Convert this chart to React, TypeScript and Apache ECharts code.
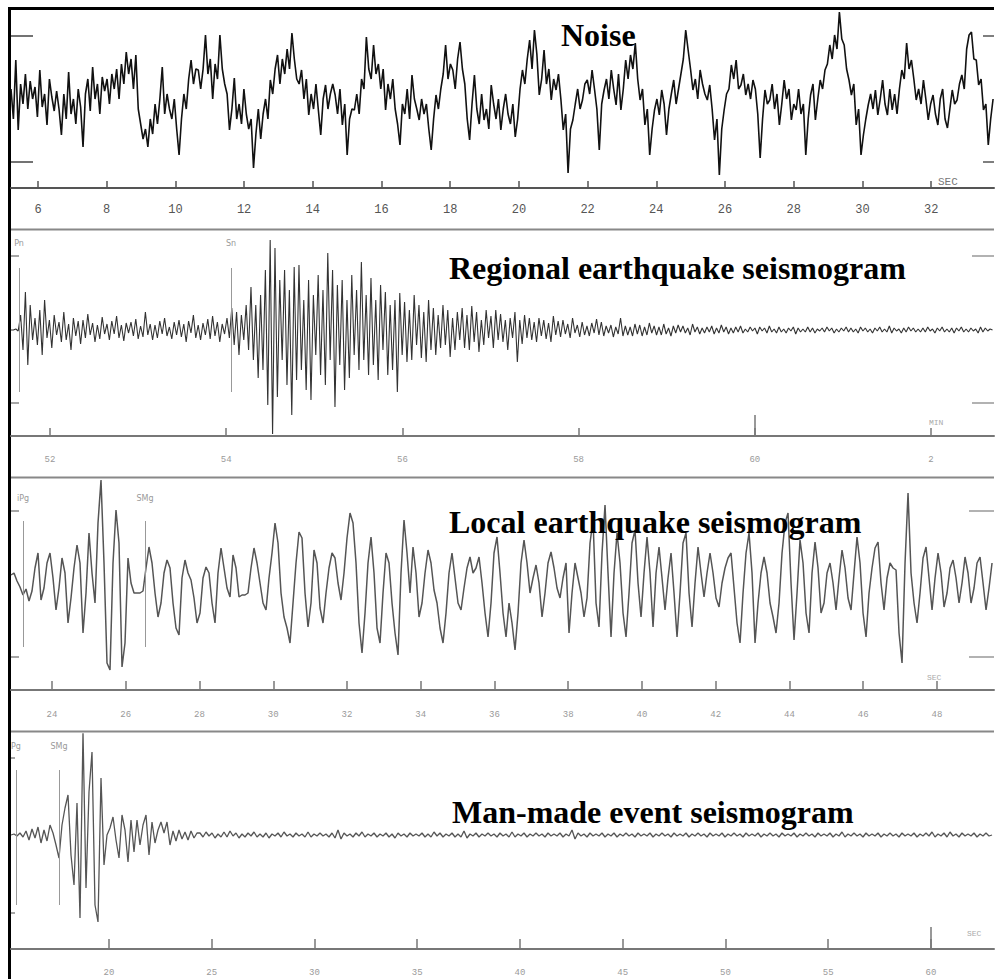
import React, { useEffect, useRef } from "react";
import * as echarts from "echarts";

// ---------- tick values / labels ----------
const noiseTicks = [6, 8, 10, 12, 14, 16, 18, 20, 22, 24, 26, 28, 30, 32];
const noiseTickLabels = ["6", "8", "10", "12", "14", "16", "18", "20", "22", "24", "26", "28", "30", "32"];
const regionalTicks = [52, 54, 56, 58, 60, 62];
const regionalTickLabels = ["52", "54", "56", "58", "60", "2"];
const localTicks = [24, 26, 28, 30, 32, 34, 36, 38, 40, 42, 44, 46, 48];
const localTickLabels = ["24", "26", "28", "30", "32", "34", "36", "38", "40", "42", "44", "46", "48"];
const manmadeTicks = [20, 25, 30, 35, 40, 45, 50, 55, 60];
const manmadeTickLabels = ["20", "25", "30", "35", "40", "45", "50", "55", "60"];

// ---------- titles ----------
const panelTitles = ["Noise", "Regional earthquake seismogram", "Local earthquake seismogram", "Man-made event seismogram"];
const panelUnits = ["SEC", "MIN", "SEC", "SEC"];

// ---------- phase picks ----------
const regionalPickNames = ["Pn", "Sn"];
const regionalPickTimes = [51.648, 54.054];
const localPickNames = ["iPg", "SMg"];
const localPickTimes = [23.213, 26.522];
const manmadePickNames = ["Pg", "SMg"];
const manmadePickTimes = [15.474, 17.567];

// ---------- sampling ----------
const noiseStart = 5.214;
const noiseStep = 0.0699; // s
const regionalStart = 51.557;
const regionalStep = 0.02724; // min
const localStart = 22.888;
const localStep = 0.08136; // s
const manmadeStart = 15.231;
const manmadeStep = 0.146; // s

// ---------- traces (amplitude) ----------
const noiseValues = [
  10, -20, 39, -31, 15, -5, 25, -10, 18, 0,
  12, -18, 29, -8, 5, -26, 20, 2, -12, 8,
  -10, -36, 5, -20, 27, -15, 0, -25, 10, -8,
  -48, 5, 20, -12, 32, 0, 15, -15, 22, 8,
  20, -5, 25, 10, 30, 0, 35, 15, 47, 25,
  40, 10, 44, -10, -25, -40, -30, -48, -20, -35,
  -5, -25, 0, 32, -15, 5, -10, -20, 0, -30,
  -56, -20, 5, -10, 20, 39, 15, 30, 29, 10,
  30, 64, 25, 40, 0, 35, 20, 64, 30, 15,
  5, -31, -10, 21, -20, -5, -25, 10, -15, -30,
  -20, -69, -35, -10, -40, -15, 0, -20, 19, 5,
  30, 44, 15, 40, 25, 50, 30, 66, 40, 20,
  15, 29, 0, 20, -16, 5, -10, 15, -11, -36,
  0, 14, -10, 5, 15, 4, -15, 10, -26, -5,
  -56, -20, -10, -11, 5, -15, 20, 10, 62, 30,
  20, 54, 25, 35, 10, 30, -11, 15, 0, 20,
  -10, -25, -46, -5, -15, 10, -20, 24, 0, -10,
  -21, 0, -15, -5, -30, -51, -20, 4, -10, 10,
  25, 54, 20, 35, 29, 10, 40, 57, 30, 15,
  -20, -41, -5, 24, -10, -25, 5, -21, -10, -30,
  14, -5, -20, 0, -31, -10, 5, -15, -25, -5,
  -38, -20, 10, 29, 15, 40, 59, 30, 69, 45,
  4, 20, 49, 15, 30, -1, 20, 9, 25, 0,
  -31, -15, -74, -30, -21, -5, 10, -10, -1, 15,
  19, 5, 29, 10, -10, -51, -5, 9, 20, 0,
  29, 10, -6, 25, -11, 10, 39, 20, 44, 30,
  56, 20, -1, 10, -26, -10, -56, -30, -11, 0,
  -16, 9, -5, -36, -10, 5, 19, -5, 10, 25,
  40, 69, 49, 30, 9, 20, 0, 29, 15, 5,
  -1, 14, -10, -41, -20, -76, -30, -11, 5, 10,
  34, 20, 39, 10, 14, 25, 4, 15, 0, 19,
  10, -15, -59, -20, 9, -5, -1, 15, -10, 5,
  -26, -5, 19, 0, 10, -21, -5, -11, 10, -15,
  -5, -56, -20, 4, 15, -21, 0, 19, 10, 29,
  35, 54, 40, 64, 50, 87, 60, 54, 30, 19,
  4, 15, -26, -10, -56, -36, -20, -6, 5, -10,
  9, -16, 0, 19, -5, -16, 10, -11, 5, -15,
  10, 29, 20, 56, 30, 39, 20, -1, 10, -5,
  19, 0, -21, -5, 4, -15, -26, 0, 10, -20,
  -29, -10, 9, -5, -1, 15, 24, 10, 50, 64,
  67, 40, 39, 14, 20, -11, -5, -46, -20, 0,
];

const regionalValues = [
  0, 0, 1, -1, 15, -20, 38, -35, 25, -10,
  12, -15, 20, -25, 30, -8, 10, -18, 15, -5,
  8, -12, 18, -10, 6, -20, 12, -6, 9, -14,
  10, -8, 16, -5, 7, -12, 5, -9, 13, -4,
  6, -10, 9, -4, 14, -8, 5, -11, 7, -3,
  8, -6, 11, -9, 4, -7, 18, -5, 6, -10,
  5, -8, 9, -4, 12, -6, 3, -9, 8, -5,
  10, -7, 6, -12, 9, -3, 15, -8, 5, -10,
  7, -5, 11, -9, 14, -6, 8, -12, 6, -4,
  12, -8, 22, -15, 18, -25, 15, -10, 25, -20,
  43, -30, 25, -48, 35, -40, 60, -75, 90, -104,
  82, -67, 50, -30, 60, -55, 40, -85, 63, -50,
  65, -40, 30, -60, 50, -70, 35, -25, 55, -45,
  40, -55, 77, -30, 60, -77, 45, -35, 50, -60,
  30, -48, 55, -25, 40, -40, 68, -30, 35, -45,
  52, -35, 30, -50, 45, -20, 38, -45, 25, -40,
  30, -62, 37, -25, 28, -32, 20, -30, 35, -15,
  25, -28, 18, -32, 30, -20, 22, -25, 15, -18,
  25, -15, 20, -27, 12, -20, 18, -10, 22, -18,
  15, -20, 24, -12, 18, -22, 10, -15, 20, -8,
  14, -18, 20, -10, 16, -12, 10, -20, 12, -8,
  18, -32, 10, -14, 15, -8, 12, -10, 8, -12,
  12, -6, 10, -9, 7, -12, 14, -5, 9, -7,
  10, -4, 6, -8, 12, -3, 5, -7, 8, -5,
  4, -6, 7, -3, 11, -5, 8, -6, 4, -3,
  5, -7, 3, -4, 12, -6, 4, -5, 3, -6,
  6, -4, 5, -6, 3, -5, 7, -3, 4, -5,
  3, -5, 6, -4, 2, -6, 4, -3, 5, -2,
  4, -3, 2, -5, 6, -2, 3, -4, 2, -3,
  3, -2, 4, -4, 2, -3, 5, -2, 3, -4,
  2, -3, 3, -2, 4, -3, 1, -2, 3, -1,
  2, -4, 3, -1, 2, -3, 4, -2, 1, -3,
  3, -2, 1, -3, 2, -1, 3, -4, 2, -2,
  1, -2, 3, -2, 2, -3, 1, -1, 2, -2,
  3, -1, 2, -3, 1, -2, 2, -1, 3, -2,
  2, -2, 1, -3, 3, -1, 2, -2, 1, -3,
  2, -1, 3, -2, 1, -2, 4, -3, 2, -1,
  1, -3, 2, -2, 3, -1, 2, -2, 1, -2,
  2, -2, 3, -1, 1, -3, 2, -1, 3, -2,
  1, -2, 2, -3, 2, -1, 3, -2, 1, -2,
  2, -1, 1, -3, 3, -2, 2, -1, 1, 0,
];

const localValues = [
  8, 10, 2, -4, -12, -6, -18, -8, 15, 30,
  -17, -5, 20, 30, 5, -27, -5, 25, 10, -40,
  -15, 15, 38, 20, -50, -10, 50, 10, -20, 60,
  103, 20, -80, -87, 20, 73, 40, -84, -60, 25,
  0, -10, -10, -10, -8, 15, 36, 20, -10, -34,
  -20, 10, 23, 15, -20, -45, -52, 5, 23, 10,
  3, -15, -40, -30, 5, 16, 10, -20, -40, 10,
  35, 15, -5, -14, 28, 15, -14, -12, -12, -10,
  15, 35, 20, 0, -20, -27, 5, 30, 60, 40,
  -10, -34, -45, -60, -20, 20, 51, 45, -10, -44,
  -20, 33, 20, -25, -40, -10, 15, 30, 25, 0,
  -17, 10, 45, 70, 60, 20, -40, -70, -30, 20,
  46, 10, -45, -60, -10, 30, 20, -20, -50, -72,
  10, 63, 30, -10, 36, 10, -34, -20, 10, 33,
  20, -7, -20, -45, -60, -30, 10, 30, 5, -20,
  -27, -5, 15, 26, 10, 15, 26, 0, -30, -54,
  -20, 30, 46, 10, -30, -54, -20, -40, -67, -30,
  20, 43, 20, -10, 5, 18, 0, -34, -10, 20,
  31, 15, -5, -15, 5, 20, -50, -10, 20, 5,
  -10, -34, -15, 40, 63, -20, -44, 30, 78, 10,
  -54, 10, 50, 20, -30, -54, -10, 40, 53, 0,
  -34, 10, 46, 10, -44, 10, 36, 5, -27, 5,
  30, -10, -54, -10, 40, 50, -10, -44, 0, 36,
  10, -14, 10, 30, 10, -15, -24, 0, 15, 25,
  30, -5, -40, -60, -10, 30, 50, 10, -60, -20,
  10, 26, 10, -20, -34, -50, -20, 30, 60, 70,
  0, -57, -10, 43, 20, -30, -50, 10, 41, 15,
  -30, -20, 10, 20, 0, -27, 5, 33, 15, -15,
  -27, 10, 46, 20, -30, -54, -10, 15, 35, 41,
  0, -27, 5, 20, 15, 13, -50, -80, 20, 90,
  10, -20, -40, -10, 25, 36, 5, -27, 5, 30,
  10, -24, -10, 15, 23, 5, -20, 0, 26, 10,
  -20, -5, 20, 26, 0, -27, -5, 20,
];

const manmadeValues = [
  0, 1, -1, 2, -2, 4, -5, 6, -3, 8,
  -8, 5, -6, 10, 2, -10, -23, 10, 27, 40,
  -20, -50, 32, -83, 103, -53, 43, 83, -70, -87,
  57, -30, 0, 7, 18, -5, -23, 20, 5, -27,
  15, -17, 15, -10, 10, 20, -20, 13, -8, 5,
  13, 2, 13, -10, 4, -6, 5, -4, 3, -5,
  4, -3, 2,
  2, -2, 3, -1, 2, -3, 1, -2, 3, -2, 4, -1, 2, -3, 1, -2, 2, -1, 3, -2,
  1, -2, 2, -3, 1, -1, 2, -2, 3, -1, 1, -2, 2, -1, 1, -2, 3, -2, 1, -1,
  2, -1, 1, -2, 2, -3, 5, -4, 2, -1, 1, -2, 2, -1, 3, -2, 1, -1, 2, -2,
  1, -1, 2, -2, 1, -3, 2, -1, 1, -2, 2, -1, 1, -1, 2, -2, 1, -2, 3, -1,
  2, -2, 1, -1, 2, -2, 1, -2, 4, -3, 1, -1, 2, -2, 1, -1, 2, -1, 1, -2,
  2, -1, 1, -2, 3, -2, 1, -1, 2, -2, 1, -1, 2, -1, 1, -2, 2, -1, 1, -1,
  2, -2, 1, -1, 5, -4, 2, -1, 1, -2, 2, -1, 1, -1, 2, -2, 1, -1, 2, -2,
  1, -1, 2, -1, 1, -2, 2, -1, 1, -1, 2, -2, 1, -1, 2, -1, 1, -2, 2, -1,
  1, -1, 2, -2, 1, -1, 2, -1, 1, -2, 2, -1, 1, -1, 2, -2, 1, -1, 2, -1,
  1, -2, 2, -1, 1, -1, 2, -2, 1, -1, 2, -1, 1, -2, 2, -1, 1, -1, 2, -2,
  1, -1, 2, -1, 1, -2, 2, -1, 1, -1, 2, -2, 1, -1, 3, -2, 1, -1, 2, -1,
  1, -2, 2, -1, 1, -1, 2, -2, 1, -1, 2, -1, 1, -2, 2, -1, 1, -1, 2, -2,
  1, -1, 2, -1, 3, -2, 1, -1, 2, -2, 3, -1, 1, -2, 2, -1, 1, -1, 2, -2,
  1, -1, 2, -1, 0,
];

// ---------- layout (styles / positions only) ----------
type Panel = {
  values: number[]; start: number; step: number;
  ticks: number[]; tickLabels: string[];
  pickNames: string[]; pickTimes: number[];
  top: number; height: number; xMin: number; xMax: number; yMin: number; yMax: number;
  yTicks: number[]; leftTickLen: number; rightTickLen: number;
  tickLen: number; labelMargin: number; labelSize: number; labelColor: string;
  axisColor: string; traceColor: string; traceWidth: number;
  pickTop: number; pickBottom: number; pickLabelDist: number;
  tallTicks: number[]; tallTickLen: number;
  titleX: number; titleY: number; unitX: number; unitY: number; unitSize: number; unitColor: string;
};

const panels: Panel[] = [
  {
    values: noiseValues, start: noiseStart, step: noiseStep,
    ticks: noiseTicks, tickLabels: noiseTickLabels, pickNames: [], pickTimes: [],
    top: 10, height: 178, xMin: 5.214, xMax: 33.83, yMin: -89, yMax: 89,
    yTicks: [63, -63], leftTickLen: 22, rightTickLen: 11,
    tickLen: 7, labelMargin: 16, labelSize: 12, labelColor: "#555",
    axisColor: "#555", traceColor: "#111", traceWidth: 1.6,
    pickTop: 0, pickBottom: 0, pickLabelDist: 0, tallTicks: [], tallTickLen: 0,
    titleX: 561, titleY: 35, unitX: 938, unitY: 182, unitSize: 11, unitColor: "#777",
  },
  {
    values: regionalValues, start: regionalStart, step: regionalStep,
    ticks: regionalTicks, tickLabels: regionalTickLabels, pickNames: regionalPickNames, pickTimes: regionalPickTimes,
    top: 231, height: 205, xMin: 51.557, xMax: 62.715, yMin: -106, yMax: 99,
    yTicks: [74, -73], leftTickLen: 8, rightTickLen: 22,
    tickLen: 8, labelMargin: 19, labelSize: 9, labelColor: "#9a9a9a",
    axisColor: "#777", traceColor: "#333", traceWidth: 1.1,
    pickTop: 62, pickBottom: -62, pickLabelDist: 21, tallTicks: [60], tallTickLen: 21,
    titleX: 449, titleY: 268, unitX: 929, unitY: 422, unitSize: 8, unitColor: "#aaa",
  },
  {
    values: localValues, start: localStart, step: localStep,
    ticks: localTicks, tickLabels: localTickLabels, pickNames: localPickNames, pickTimes: localPickTimes,
    top: 480, height: 210, xMin: 22.888, xMax: 49.546, yMin: -107, yMax: 103,
    yTicks: [72, -74], leftTickLen: 8, rightTickLen: 25,
    tickLen: 9, labelMargin: 20, labelSize: 9, labelColor: "#9a9a9a",
    axisColor: "#777", traceColor: "#555", traceWidth: 1.5,
    pickTop: 62, pickBottom: -64, pickLabelDist: 19, tallTicks: [], tallTickLen: 0,
    titleX: 449, titleY: 522, unitX: 927, unitY: 677, unitSize: 8, unitColor: "#aaa",
  },
  {
    values: manmadeValues, start: manmadeStart, step: manmadeStep,
    ticks: manmadeTicks, tickLabels: manmadeTickLabels, pickNames: manmadePickNames, pickTimes: manmadePickTimes,
    top: 734, height: 215, xMin: 15.231, xMax: 63.07, yMin: -114, yMax: 101,
    yTicks: [77, -78], leftTickLen: 4, rightTickLen: 0,
    tickLen: 10, labelMargin: 19, labelSize: 9, labelColor: "#9a9a9a",
    axisColor: "#777", traceColor: "#555", traceWidth: 1.3,
    pickTop: 65, pickBottom: -70, pickLabelDist: 20, tallTicks: [60], tallTickLen: 22,
    titleX: 452, titleY: 812, unitX: 967, unitY: 933, unitSize: 8, unitColor: "#aaa",
  },
];

function buildOption() {
  const grid: any[] = [];
  const xAxis: any[] = [];
  const yAxis: any[] = [];
  const series: any[] = [];
  const graphic: any[] = [];

  panels.forEach((p, i) => {
    grid.push({ left: 11, right: 5, top: p.top, height: p.height });
    const mainX = xAxis.length;
    xAxis.push({
      type: "value", gridIndex: i, min: p.xMin, max: p.xMax, position: "bottom",
      axisLine: { show: true, onZero: false, lineStyle: { color: p.axisColor, width: 2 } },
      axisTick: { show: true, inside: true, length: p.tickLen, customValues: p.ticks, lineStyle: { color: p.axisColor, width: 1.5 } },
      axisLabel: {
        show: true, customValues: p.ticks, margin: p.labelMargin,
        fontFamily: "Liberation Mono", fontSize: p.labelSize, color: p.labelColor,
        formatter: (v: number) => {
          const k = p.ticks.findIndex((t) => Math.abs(t - v) < 1e-6);
          return k >= 0 ? p.tickLabels[k] : "";
        },
      },
      splitLine: { show: false },
    });
    if (p.tallTicks.length) {
      xAxis.push({
        type: "value", gridIndex: i, min: p.xMin, max: p.xMax, position: "bottom",
        axisLine: { show: false, onZero: false },
        axisTick: { show: true, inside: true, length: p.tallTickLen, customValues: p.tallTicks, lineStyle: { color: p.axisColor, width: 1.5 } },
        axisLabel: { show: false },
        splitLine: { show: false },
      });
    }
    const leftY = yAxis.length;
    yAxis.push({
      type: "value", gridIndex: i, min: p.yMin, max: p.yMax, position: "left",
      axisLine: { show: false },
      axisTick: { show: true, inside: true, length: p.leftTickLen, customValues: p.yTicks, lineStyle: { color: i === 0 ? "#444" : "#888", width: 1.5 } },
      axisLabel: { show: false },
      splitLine: { show: false },
    });
    if (p.rightTickLen > 0) {
      yAxis.push({
        type: "value", gridIndex: i, min: p.yMin, max: p.yMax, position: "right",
        axisLine: { show: false },
        axisTick: { show: true, inside: true, length: p.rightTickLen, customValues: p.yTicks, lineStyle: { color: i === 0 ? "#555" : "#999", width: 1.5 } },
        axisLabel: { show: false },
        splitLine: { show: false },
      });
    }

    series.push({
      type: "line",
      xAxisIndex: mainX,
      yAxisIndex: leftY,
      data: p.values.map((v, k) => [p.start + k * p.step, v]),
      showSymbol: false,
      symbol: "none",
      clip: true,
      lineStyle: { color: p.traceColor, width: p.traceWidth },
      markLine: p.pickNames.length
        ? {
            silent: true,
            symbol: ["none", "none"],
            lineStyle: { color: "#999", width: 1, type: "solid" },
            label: {
              show: true, position: "start", distance: p.pickLabelDist,
              formatter: "{b}", fontSize: 8, color: "#999", fontFamily: "DejaVu Sans",
            },
            data: p.pickNames.map((n, k) => [
              { name: n, coord: [p.pickTimes[k], p.pickTop] },
              { coord: [p.pickTimes[k], p.pickBottom] },
            ]),
          }
        : undefined,
    });

    graphic.push({
      type: "text", x: p.titleX, y: p.titleY, z: 100,
      style: {
        text: panelTitles[i], fontSize: 32, fontWeight: "bold",
        fontFamily: "Liberation Serif", fill: "#000", align: "left", verticalAlign: "middle",
      },
    });
    graphic.push({
      type: "text", x: p.unitX, y: p.unitY, z: 100,
      style: {
        text: panelUnits[i], fontSize: p.unitSize, fontFamily: "Liberation Mono",
        fill: p.unitColor, align: "left", verticalAlign: "middle",
      },
    });
  });

  // frame and separators
  graphic.push({ type: "line", shape: { x1: 8, y1: 8.5, x2: 994, y2: 8.5 }, style: { stroke: "#000", lineWidth: 3 } });
  graphic.push({ type: "line", shape: { x1: 9.5, y1: 7, x2: 9.5, y2: 979 }, style: { stroke: "#000", lineWidth: 3 } });
  [229.5, 477.5, 731.5].forEach((y) => {
    graphic.push({ type: "line", shape: { x1: 11, y1: y, x2: 994, y2: y }, style: { stroke: "#888", lineWidth: 2 } });
  });

  return {
    animation: false,
    backgroundColor: "#ffffff",
    grid, xAxis, yAxis, series, graphic,
  };
}

export default function App() {
  const ref = useRef<HTMLDivElement>(null);
  useEffect(() => {
    if (!ref.current) return;
    const chart = echarts.init(ref.current, null, { renderer: "svg" });
    chart.setOption(buildOption() as any);
    return () => chart.dispose();
  }, []);
  return (
    <div
      ref={ref}
      style={{ position: "absolute", left: 0, top: 0, width: 999, height: 979, background: "#fff" }}
    />
  );
}
